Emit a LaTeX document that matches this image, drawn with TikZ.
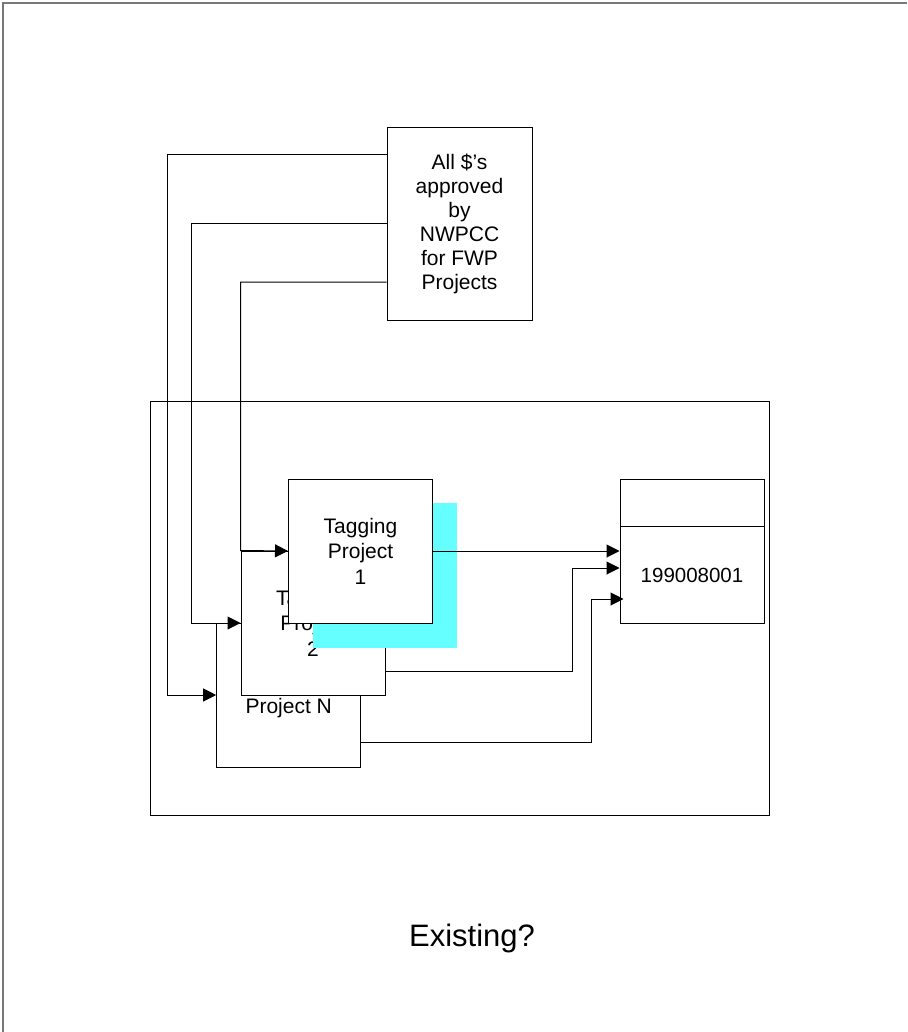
\documentclass[tikz,border=0pt]{standalone}
\usepackage{fontspec}
\setmainfont{Liberation Sans}
\usetikzlibrary{positioning,arrows.meta,calc}
\definecolor{shadowc}{RGB}{102,255,255}
\definecolor{framec}{RGB}{120,120,120}
\tikzset{
  blk/.style={draw,fill=white,line width=1pt,align=center,inner sep=0pt,
    font=\fontsize{21}{25.5}\selectfont},
  proj/.style={blk,minimum width=144pt,minimum height=144pt},
  ar/.style={-{Triangle[length=13pt,width=13pt]},line width=1pt},
}

\begin{document}
\begin{tikzpicture}[x=1pt,y=-1pt]
  \useasboundingbox (0,0) rectangle (907,1032);
  \draw[framec,line width=2pt] (3,1032) -- (3,3) -- (907,3);
  \node[draw,line width=1pt,minimum width=619pt,minimum height=414pt] (sys) at (459.5,608) {};
  \node[blk,minimum width=145pt,minimum height=192pt,font=\fontsize{21}{24}\selectfont] (src) at (459.5,224)
    {All \$'s\\approved\\by\\NWPCC\\for FWP\\Projects};
  \node[proj] (pN) at (288.7,695) {Tagging\\Project N};
  \node[proj] (p2) at (313,623) {Tagging\\Project\\2};
  \node[minimum width=144pt,minimum height=145pt,fill=shadowc,inner sep=0pt] (shade) at (385,575.5) {};
  \node[proj] (p1) at (360.5,551) {Tagging\\Project\\1};
  \node[proj] (tgt) at (692,551) {};
  \draw[line width=1pt] ([yshift=-48pt]tgt.north west) -- ([yshift=-48pt]tgt.north east);
  \node[font=\fontsize{20.5}{24}\selectfont] (tgtnum) at ([yshift=-24pt]tgt.center) {199008001};
  \draw[ar] ([yshift=69pt]src.west) -- ++(-219,0) |- (pN.west);
  \draw[ar] (src.west) -- ++(-195,0) |- (p2.west);
  \draw[ar] ([yshift=-58pt]src.west) -| (p2.north west) -- (p1.west);
  \draw[ar] (p1.east) -- (tgt.west);
  \draw[ar] ([yshift=-48pt]p2.east) -- ++(187,0) |- ([yshift=-17pt]tgt.west);
  \draw[ar] ([yshift=-47pt]pN.east) -- ++(230,0) |- ([yshift=-48pt,xshift=4pt]tgt.west);
  \node[font=\fontsize{31}{36}\selectfont] (lbl) at (472,938) {Existing?};
\end{tikzpicture}
\end{document}
